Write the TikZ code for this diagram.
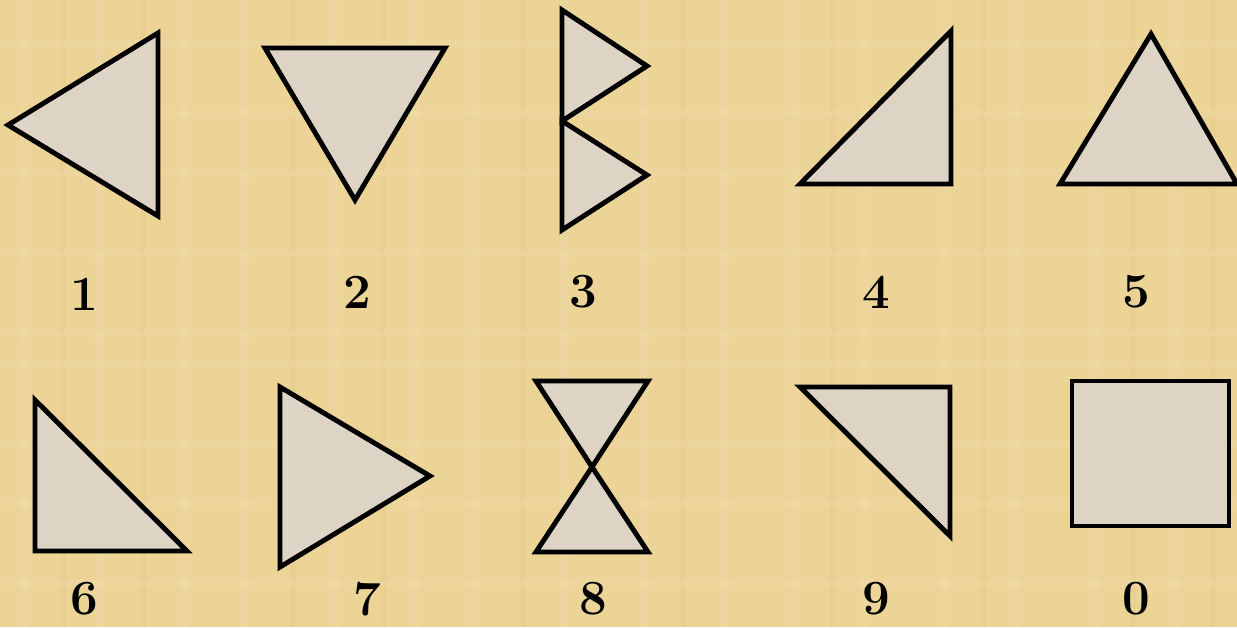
\documentclass[tikz,border=0pt]{standalone}
\usepackage{tikz}
\definecolor{papyrus}{RGB}{236,211,150}
\definecolor{papyruslight}{RGB}{242,224,176}
\definecolor{papyrusdark}{RGB}{226,198,128}
\definecolor{shapefill}{RGB}{222,212,198}
\tikzset{
  piece/.style={draw=black, fill=shapefill, line width=2.8pt, line join=miter},
  digit/.style={font=\fontsize{28}{28}\selectfont\bfseries, text=black, inner sep=0pt},
  streak/.style={draw=none, fill=papyruslight, opacity=0.3},
  streakdark/.style={draw=none, fill=papyrusdark, opacity=0.25}
}
\begin{document}
\begin{tikzpicture}[x=0.02cm,y=-0.02cm]
\fill[papyrus] (0,0) rectangle (1237,627);
\useasboundingbox (0,0) rectangle (1237,627);
% faint papyrus texture
\foreach \x in {20,95,180,240,330,410,470,560,640,720,790,860,940,1010,1090,1170}{
  \fill[streak] (\x,0) rectangle ++(9,627);
}
\foreach \x in {60,140,290,380,520,680,830,980,1130,1210}{
  \fill[streakdark] (\x,0) rectangle ++(6,627);
}
\foreach \y in {40,110,170,250,330,360,440,500,580}{
  \fill[streak] (0,\y) rectangle ++(1237,7);
}
% shapes
\draw[piece] (8,125) -- (158,33) -- (158,216) -- cycle;
\draw[piece] (265,48) -- (445,48) -- (355,200) -- cycle;
\draw[piece] (562,10) -- (647,66) -- (562,121) -- cycle;
\draw[piece] (562,121) -- (647,175) -- (562,230) -- cycle;
\draw[piece] (800,184) -- (951,31) -- (951,184) -- cycle;
\draw[piece] (1060,184) -- (1151,34) -- (1237,184) -- cycle;
\draw[piece] (35,400) -- (35,551) -- (187,551) -- cycle;
\draw[piece] (280,387) -- (430,476) -- (280,567) -- cycle;
\draw[piece] (536,381) -- (648,381) -- (592,467) -- cycle;
\draw[piece] (592,467) -- (536,552) -- (648,552) -- cycle;
\draw[piece] (800,387) -- (950,387) -- (950,536) -- cycle;
\draw[piece] (1072,381) rectangle (1229,526);
% labels
\node[digit] (d1) at (84,294) {1};
\node[digit] (d2) at (357,292) {2};
\node[digit] (d3) at (583,292) {3};
\node[digit] (d4) at (876,292) {4};
\node[digit] (d5) at (1136,292) {5};
\node[digit] (d6) at (84,599) {6};
\node[digit] (d7) at (367,599) {7};
\node[digit] (d8) at (593,599) {8};
\node[digit] (d9) at (876,599) {9};
\node[digit] (d0) at (1136,599) {0};
\end{tikzpicture}
\end{document}
